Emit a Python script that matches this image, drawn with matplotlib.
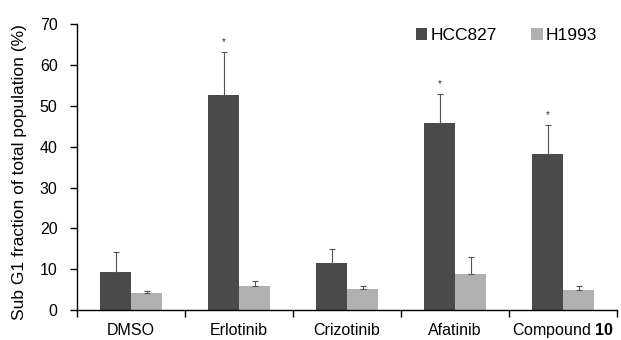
import matplotlib
matplotlib.use("Agg")
import matplotlib.pyplot as plt
import numpy as np

plt.rcParams['font.family'] = ['Liberation Sans', 'DejaVu Sans']
plt.rcParams['mathtext.fontset'] = 'custom'
plt.rcParams['mathtext.rm'] = 'Liberation Sans'
plt.rcParams['mathtext.bf'] = 'Liberation Sans:bold'

categories = ["DMSO", "Erlotinib", "Crizotinib", "Afatinib", "Compound $\\mathbf{10}$"]
series_names = ["HCC827", "H1993"]
hcc827 = [9.4, 52.6, 11.5, 45.7, 38.3]
hcc827_err = [4.7, 10.5, 3.4, 7.1, 6.9]
h1993 = [4.2, 5.95, 5.1, 8.8, 4.8]
h1993_err = [0.4, 1.25, 0.8, 4.1, 1.1]
significant = [False, True, False, True, True]
yticks = [0, 10, 20, 30, 40, 50, 60, 70]

fig = plt.figure(figsize=(6.21, 3.4), dpi=100)
ax = fig.add_axes([0.124, 0.088, 0.8696, 0.8412])

x = np.arange(len(categories))
w = 0.287
c1, c2 = "#4a4a4a", "#b0b0b0"
ekw = dict(ecolor="#555555", elinewidth=0.8, capsize=2, capthick=0.8)
ax.bar(x - w/2, hcc827, w, color=c1, label=series_names[0], zorder=2,
       yerr=[np.zeros(len(x)), hcc827_err], error_kw=ekw)
ax.bar(x + w/2, h1993, w, color=c2, label=series_names[1], zorder=2,
       yerr=[np.zeros(len(x)), h1993_err], error_kw=ekw)

for xi, v, e, s in zip(x, hcc827, hcc827_err, significant):
    if s:
        ax.text(xi - w/2, v + e + 1.2, "*", ha="center", va="bottom", fontsize=7, color="#333333")

ax.set_xlim(-0.5, len(categories) - 0.5)
ax.set_ylim(0, 70)
ax.set_yticks(yticks)
ax.set_xticks(x)
ax.set_xticklabels(categories, fontsize=11.5)
for lab in ax.get_xticklabels():
    lab.set_verticalalignment("baseline")
ax.set_xticks(np.arange(len(categories) + 1) - 0.5, minor=True)
ax.tick_params(axis="x", which="major", length=0, pad=18)
ax.tick_params(axis="x", which="minor", length=5, width=1, direction="out")
ax.tick_params(axis="y", length=5, width=1, labelsize=11.5, direction="out", pad=9)
for sp in ["top", "right"]:
    ax.spines[sp].set_visible(False)
ax.spines["left"].set_linewidth(1)
ax.spines["bottom"].set_linewidth(1)
ax.set_ylabel("Sub G1 fraction of total population (%)", fontsize=12.5, va="center")
ax.yaxis.set_label_coords(20/621, 1 - 172.5/340, transform=fig.transFigure)

ax.legend(loc="center", bbox_to_anchor=(506.5/621, 1 - 35.5/340), bbox_transform=fig.transFigure,
          ncol=2, frameon=False, fontsize=12.5, handlelength=0.65, handleheight=0.65,
          handletextpad=0.2, columnspacing=2.0)

fig.savefig("out.png", dpi=100)
